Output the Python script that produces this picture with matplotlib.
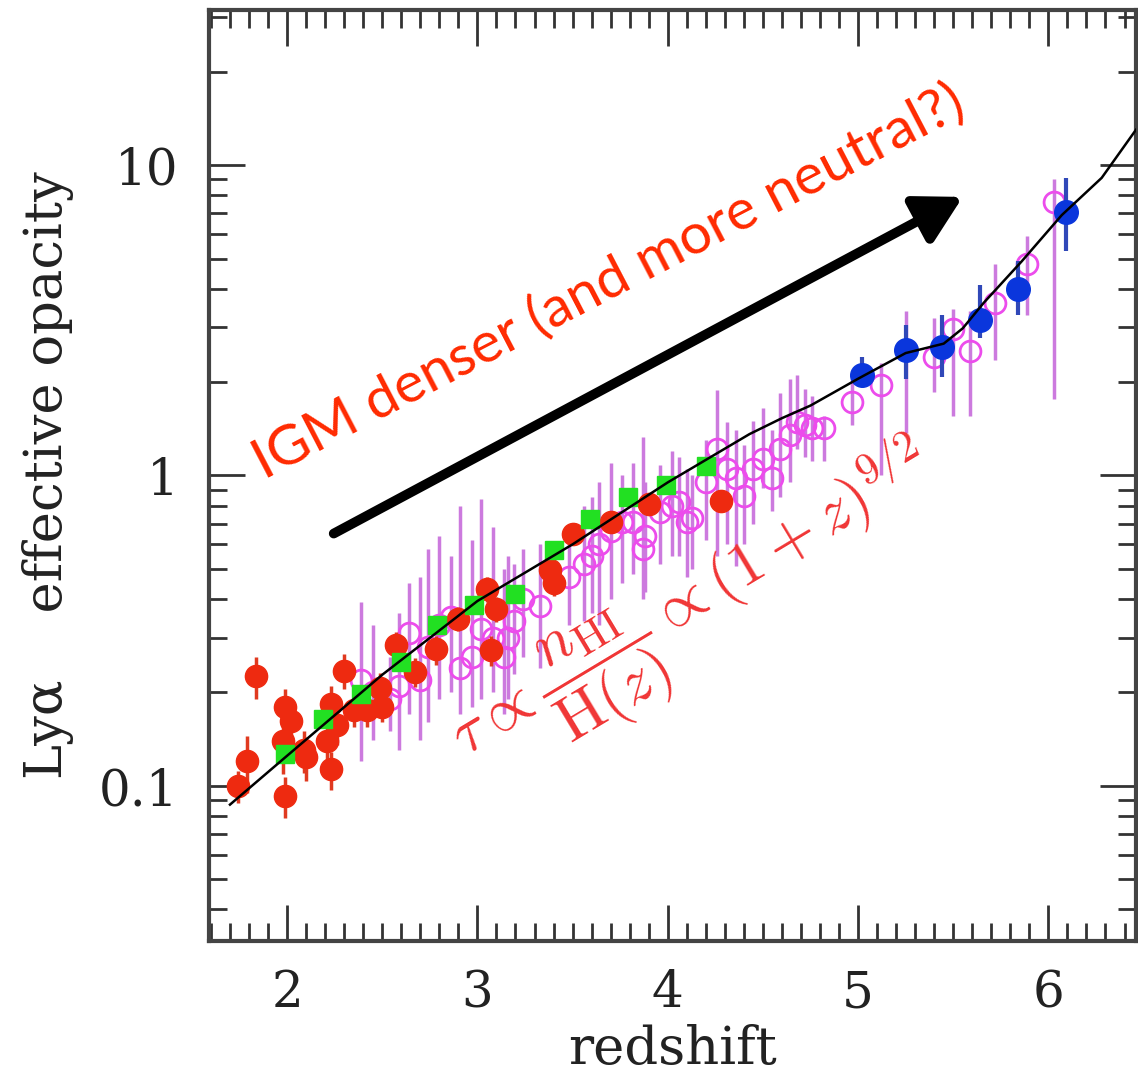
import matplotlib
matplotlib.use("Agg")
import numpy as np
import matplotlib.pyplot as plt
from matplotlib.ticker import MultipleLocator, LogLocator, NullFormatter

plt.rcParams["font.family"] = "DejaVu Serif"
plt.rcParams["mathtext.fontset"] = "cm"

# ------------------------------------------------------------------
# data (redshift, effective opacity)
# ------------------------------------------------------------------
red_z = [1.74, 1.79, 1.835, 1.99, 2.02, 1.98, 1.99, 2.09, 2.10, 2.23, 2.26, 2.21,
         2.23, 2.30, 2.35, 2.42, 2.49, 2.50, 2.57, 2.67, 2.78, 2.90, 3.05, 3.10,
         3.07, 3.38, 3.40, 3.50, 3.70, 3.90, 4.28]
red_tau = [0.100, 0.120, 0.226, 0.180, 0.162, 0.139, 0.093, 0.130, 0.124, 0.184, 0.157, 0.139,
           0.113, 0.235, 0.175, 0.175, 0.206, 0.180, 0.284, 0.233, 0.275, 0.346, 0.431, 0.372,
           0.273, 0.496, 0.449, 0.650, 0.710, 0.810, 0.830]
red_err = [0.012, 0.025, 0.035, 0.025, 0.022, 0.030, 0.014, 0.020, 0.020, 0.025, 0.022, 0.020,
           0.016, 0.030, 0.020, 0.020, 0.025, 0.020, 0.030, 0.025, 0.030, 0.030, 0.040, 0.035,
           0.030, 0.040, 0.040, 0.050, 0.050, 0.060, 0.060]

green_z = [1.99, 2.19, 2.39, 2.60, 2.79, 2.98, 3.20, 3.40, 3.59, 3.79, 3.99, 4.20]
green_tau = [0.127, 0.164, 0.198, 0.250, 0.329, 0.382, 0.416, 0.574, 0.726, 0.853, 0.930, 1.070]

mag_z = [2.39, 2.45, 2.54, 2.59, 2.64, 2.70, 2.74, 2.80, 2.86, 2.91, 2.97, 3.02, 3.08,
         3.14, 3.16, 3.19, 3.24, 3.33, 3.48, 3.56, 3.60, 3.64, 3.70, 3.76, 3.82, 3.87,
         3.88, 3.96, 4.02, 4.06, 4.10, 4.13, 4.20, 4.26, 4.31, 4.36, 4.40, 4.45, 4.50,
         4.55, 4.59, 4.64, 4.68, 4.72, 4.76, 4.82, 4.97, 5.12, 5.25, 5.40, 5.50, 5.59,
         5.72, 5.89, 6.03]
mag_tau = [0.22, 0.20, 0.19, 0.21, 0.31, 0.22, 0.28, 0.33, 0.35, 0.24, 0.26, 0.32, 0.30,
           0.26, 0.30, 0.34, 0.40, 0.38, 0.47, 0.52, 0.55, 0.60, 0.66, 0.71, 0.71, 0.58,
           0.64, 0.76, 0.80, 0.82, 0.71, 0.73, 0.95, 1.22, 1.05, 0.98, 0.86, 1.05, 1.13,
           0.98, 1.22, 1.35, 1.49, 1.45, 1.42, 1.42, 1.73, 1.95, 2.54, 2.41, 2.97, 2.52,
           3.60, 4.80, 7.60]
mag_low = [0.12, 0.14, 0.15, 0.13, 0.17, 0.14, 0.16, 0.19, 0.20, 0.17, 0.18, 0.19, 0.20,
           0.17, 0.19, 0.23, 0.26, 0.24, 0.33, 0.34, 0.36, 0.33, 0.40, 0.45, 0.48, 0.40,
           0.42, 0.52, 0.55, 0.55, 0.47, 0.50, 0.62, 0.55, 0.60, 0.51, 0.60, 0.70, 0.91,
           0.77, 0.85, 0.95, 1.22, 1.15, 1.11, 1.11, 1.45, 1.00, 1.37, 1.86, 1.55, 1.56,
           2.35, 3.30, 1.77]
mag_high = [0.39, 0.33, 0.26, 0.36, 0.45, 0.47, 0.58, 0.64, 0.55, 0.80, 0.62, 0.84, 0.68,
            0.50, 0.55, 0.52, 0.58, 0.60, 0.68, 0.80, 0.85, 0.95, 1.10, 1.00, 1.10, 1.33,
            0.95, 1.08, 1.20, 1.15, 1.05, 1.00, 1.30, 1.88, 1.49, 1.40, 1.25, 1.50, 1.65,
            1.40, 1.84, 2.05, 2.10, 1.90, 1.80, 1.55, 2.05, 2.30, 3.40, 3.21, 3.45, 3.40,
            4.80, 5.90, 9.00]

blue_z = [5.02, 5.25, 5.44, 5.64, 5.84, 6.09]
blue_tau = [2.11, 2.54, 2.60, 3.17, 4.00, 7.08]
blue_low = [1.93, 2.05, 2.07, 2.77, 3.30, 5.30]
blue_high = [2.40, 3.05, 3.30, 4.10, 4.90, 9.10]

model_z = [1.70, 2.0, 2.5, 3.0, 3.5, 4.0, 4.43, 4.6, 4.75, 5.0, 5.25, 5.45, 5.55, 5.66,
           5.86, 6.07, 6.28, 6.46]
model_tau = [0.087, 0.125, 0.228, 0.394, 0.60, 0.95, 1.36, 1.53, 1.68, 2.05, 2.48, 2.66, 2.98,
             3.6, 4.9, 6.9, 9.1, 13.0]

# ------------------------------------------------------------------
fig = plt.figure(figsize=(11.38, 10.83), dpi=100)
ax = fig.add_axes([0.1837, 0.1311, 0.8145, 0.8597])

mag_tau_a = np.array(mag_tau)
ax.errorbar(mag_z, mag_tau,
            yerr=[mag_tau_a - np.array(mag_low), np.array(mag_high) - mag_tau_a],
            fmt="none", ecolor="#cc7ade", elinewidth=2.5, capsize=0, zorder=1)
ax.plot(mag_z, mag_tau, "o", mfc="none", mec="#ec4cec", mew=2, ms=15, zorder=2)

ax.errorbar(red_z, red_tau, yerr=red_err, fmt="o", color="#ee2a10", ecolor="#e03a20",
            ms=16, elinewidth=2.5, capsize=0, zorder=3)
ax.plot(green_z, green_tau, "s", color="#22e022", ms=13, zorder=4)

blue_tau_a = np.array(blue_tau)
ax.errorbar(blue_z, blue_tau,
            yerr=[blue_tau_a - np.array(blue_low), np.array(blue_high) - blue_tau_a],
            fmt="o", color="#0a36dc", ecolor="#3048b8", ms=17, elinewidth=3,
            capsize=0, zorder=4)

ax.plot(model_z, model_tau, "-", color="black", lw=1.8, zorder=6)

# annotations
ax.annotate("", xy=(5.55, 7.9), xytext=(2.245, 0.65),
            arrowprops=dict(arrowstyle="-|>,head_length=0.9,head_width=0.5",
                            lw=7, color="black", mutation_scale=31, shrinkA=0, shrinkB=0),
            zorder=7)
ax.text(1.88, 0.97, "IGM denser (and more neutral?)", family="Lato", color="#ff2a00",
        fontsize=41, rotation=27.5, rotation_mode="anchor", ha="left", va="baseline",
        zorder=8)
ax.text(4.17, 0.355, r"$\tau \propto \dfrac{n_{\rm HI}}{{\rm H}(z)} \propto (1+z)^{9/2}$",
        color="#f03535", fontsize=45, rotation=31, rotation_mode="anchor",
        ha="center", va="center", zorder=8)

# axes styling
ax.set_yscale("log")
ax.set_xlim(1.59, 6.46)
ax.set_ylim(10 ** -1.5, 10 ** 1.5)
ax.xaxis.set_major_locator(MultipleLocator(1))
ax.xaxis.set_minor_locator(MultipleLocator(0.1))
ax.yaxis.set_major_locator(LogLocator(base=10))
ax.yaxis.set_minor_locator(LogLocator(base=10, subs=np.arange(2, 10)))
ax.yaxis.set_minor_formatter(NullFormatter())
ax.set_yticks([0.1, 1, 10])
ax.set_yticklabels(["0.1", "1", "10"])

ax.tick_params(which="both", direction="in", top=True, right=True,
               colors="#333333", labelcolor="#222222", labelsize=36)
ax.tick_params(which="major", length=26, width=2)
ax.tick_params(which="minor", length=13, width=2)
ax.tick_params(axis="x", pad=20)
ax.tick_params(axis="y", pad=22)
for s in ax.spines.values():
    s.set_linewidth(3)
    s.set_color("#444444")

ax.set_xlabel("redshift", fontsize=38, color="#222222", labelpad=4)
ax.set_ylabel("Ly\u03b1    effective opacity", fontsize=38, color="#222222", labelpad=18)

fig.savefig("out.png", dpi=100)
